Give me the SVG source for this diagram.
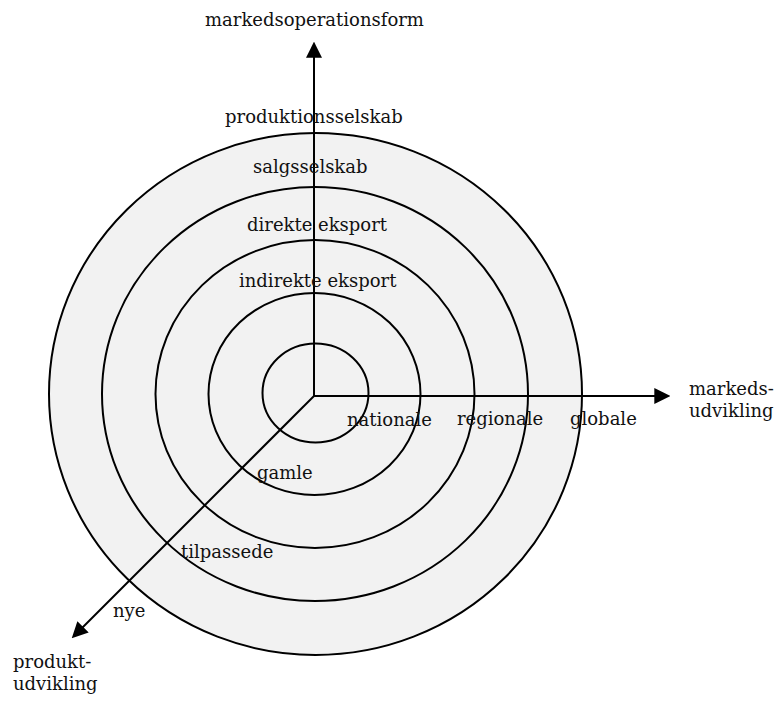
<svg xmlns="http://www.w3.org/2000/svg" width="780" height="702" viewBox="0 0 780 702">
<style>
.ring{fill:#f2f2f2;stroke:#000;stroke-width:2}
.ax{stroke:#000;stroke-width:2;fill:none}
text{font-family:"DejaVu Serif","Liberation Serif",serif;font-size:18px;fill:#111}
</style>
<defs>
<marker id="ah" markerUnits="userSpaceOnUse" markerWidth="16" markerHeight="16" viewBox="0 0 15 15" refX="10" refY="7.5" orient="auto">
<path d="M0,0 L15,7.5 L0,15 z" fill="#000"/>
</marker>
</defs>
<g id="rings">
<ellipse id="ring5" class="ring" cx="315.5" cy="394" rx="266.5" ry="261"/>
<ellipse id="ring4" class="ring" cx="315" cy="394" rx="213" ry="207"/>
<ellipse id="ring3" class="ring" cx="315" cy="394" rx="159.5" ry="154"/>
<ellipse id="ring2" class="ring" cx="314.5" cy="394" rx="106" ry="101"/>
<ellipse id="ring1" class="ring" cx="315.5" cy="393" rx="53" ry="49.5"/>
</g>
<g id="connectors">
<line class="ax" x1="314" y1="396" x2="314" y2="47" marker-end="url(#ah)"/>
<line class="ax" x1="314" y1="396" x2="665" y2="396" marker-end="url(#ah)"/>
<line class="ax" x1="314" y1="396" x2="75.5" y2="634.5" marker-end="url(#ah)"/>
</g>
<g id="axis-labels">
<text x="205" y="26">markedsoperationsform</text>
<text x="689" y="395">markeds-</text>
<text x="689" y="417">udvikling</text>
<text x="13" y="668">produkt-</text>
<text x="13" y="690">udvikling</text>
</g>
<g id="operation-labels">
<text x="225" y="123">produktionsselskab</text>
<text x="253" y="173">salgsselskab</text>
<text x="247" y="231">direkte eksport</text>
<text x="239" y="287">indirekte eksport</text>
</g>
<g id="market-labels">
<text x="347" y="426">nationale</text>
<text x="457" y="425">regionale</text>
<text x="570" y="425">globale</text>
</g>
<g id="product-labels">
<text x="257" y="479">gamle</text>
<text x="181" y="558">tilpassede</text>
<text x="113" y="617">nye</text>
</g>
</svg>
